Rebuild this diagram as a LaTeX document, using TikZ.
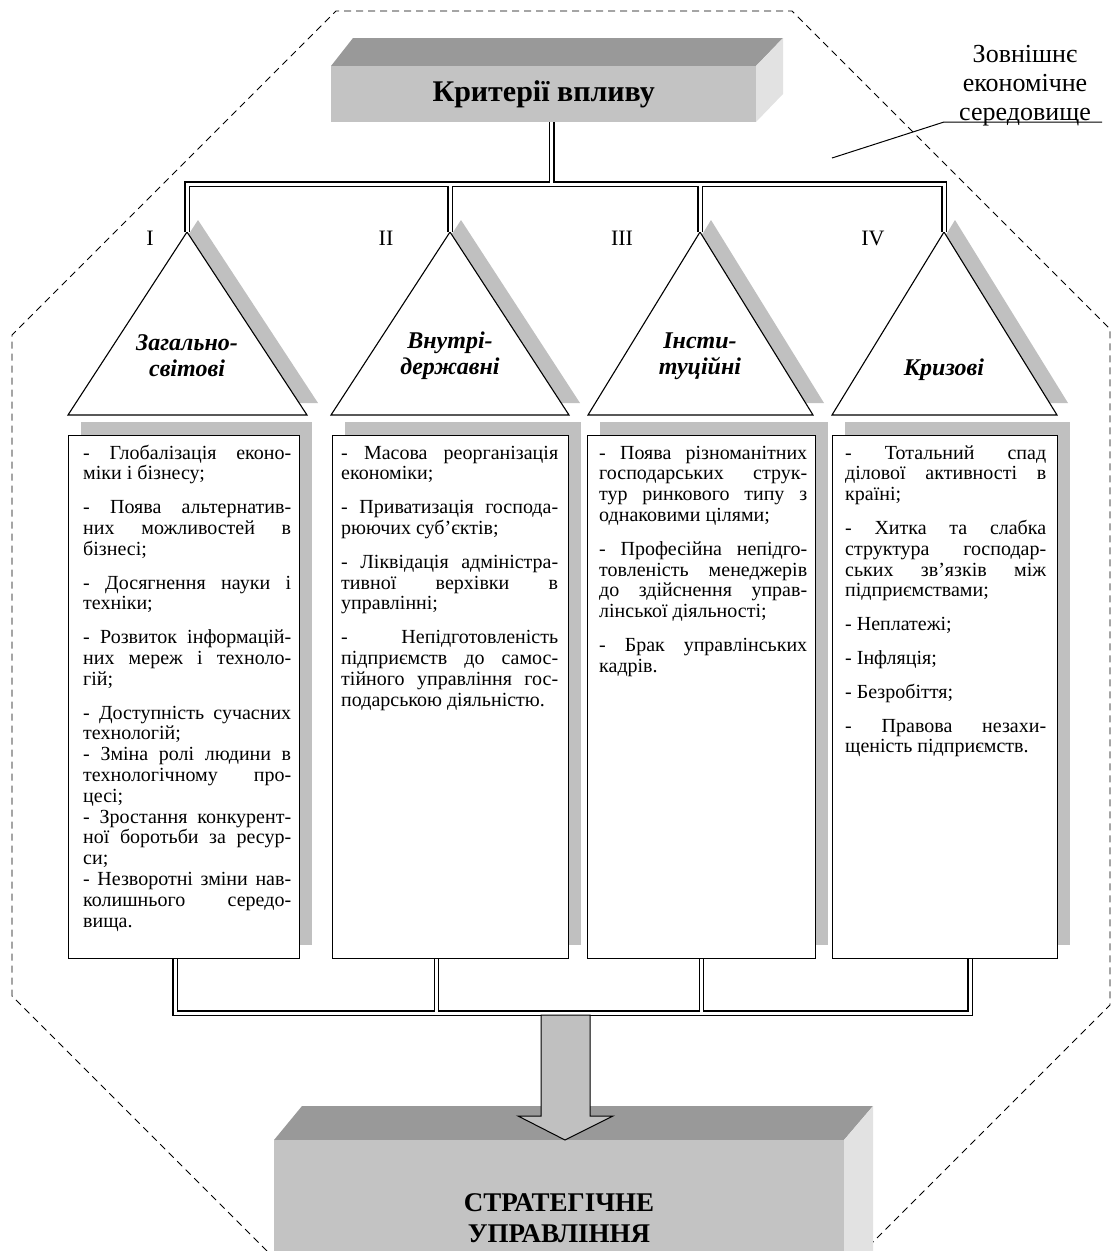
\documentclass[tikz,border=0pt]{standalone}
\usepackage{fontspec}
\setmainfont{Liberation Serif}
% one justified line / one last line of a list item
\newcommand{\JL}[1]{\hbox to\hsize{\spaceskip=0.25em plus 1fil\relax #1}}
\newcommand{\EL}[1]{\hbox to\hsize{#1\hfil}}
\newcommand{\itemgap}{\vskip 13pt}
\definecolor{topgray}{HTML}{999999}
\definecolor{frontgray}{HTML}{C3C3C3}
\definecolor{sidegray}{HTML}{E2E2E2}
\definecolor{shadowgray}{HTML}{C0C0C0}
\tikzset{
  envline/.style={dash pattern=on 7pt off 5pt, line width=0.9pt},
  link/.style={double=white, double distance=3pt, line width=1.3pt},
  frontface/.style={fill=frontgray, draw=none, inner sep=0pt},
  tri/.style={draw, fill=white, line width=1.1pt, line join=miter},
  listbox/.style={draw, fill=white, line width=1.1pt, anchor=north west, inner sep=0pt},
  listtext/.style={anchor=base west, inner sep=0pt, font=\fontsize{20}{20.8}\selectfont},
  numlabel/.style={inner sep=0pt, font=\fontsize{22}{22}\selectfont},
  trilabel/.style={inner sep=0pt, align=center, font=\fontsize{24}{26}\selectfont\bfseries\itshape},
}
\begin{document}
\begin{tikzpicture}[x=1pt,y=-1pt]
\useasboundingbox (0,0) rectangle (1115,1251);

% dashed boundary of the external environment
\draw[envline] (267,1251) -- (12,996) -- (12,335) -- (336,11) -- (792,11)
  -- (1110,329) -- (1110,1005) -- (864,1251);

% label of the environment with its leader
\node[align=center, inner sep=0pt, font=\fontsize{26}{29}\selectfont] (env) at (1025,86)
  {Зовнішнє\\економічне\\середовище};
\coordinate (leadA) at (832,158);
\coordinate (leadB) at (944,122);
\coordinate (leadC) at (1102,122);
\draw[line width=1pt] (leadA) -- (leadB) -- (leadC);

% top block
\fill[topgray] (331,66) -- (353,38) -- (783,38) -- (756,66) -- cycle;
\fill[sidegray] (756,66) -- (783,38) -- (783,94) -- (756,122) -- cycle;
\node[frontface, minimum width=425pt, minimum height=56pt, anchor=north west,
  font=\fontsize{30}{34}\selectfont\bfseries] (crit) at (331,66) {Критерії впливу};

% triangles with their shadows
\foreach \ax/\bl/\br/\nm in {187/68/307/I, 450/331/569/II, 700/588/813/III, 944/832/1057/IV}{
  \fill[shadowgray, shift={(11,-12)}] (\ax,232) -- (\bl,415) -- (\br,415) -- cycle;
  \draw[tri] (\ax,232) coordinate (apex\nm) -- (\bl,415) -- (\br,415) -- cycle;
}

% upper distribution bus
\coordinate (critout) at ([xshift=8pt]crit.south);
\coordinate (busL) at (187,184);
\coordinate (busR) at (944,184);
\draw[link] (apexI) -- (busL) -- (busR) -- (apexIV)
  (apexII) -- (apexII |- busL)
  (apexIII) -- (apexIII |- busL)
  (critout) -- (critout |- busL);

% group numbers
\node[numlabel] (nI) at (150,238) {I};
\node[numlabel] (nII) at (386,238) {II};
\node[numlabel] (nIII) at (622,238) {III};
\node[numlabel] (nIV) at (873,238) {IV};

% group names
\node[trilabel] (gI) at (187,356) {Загально-\\світові};
\node[trilabel] (gII) at (450,356) {Внутрі-\\державні};
\node[trilabel] (gIII) at (700,356) {Інсти-\\туційні};
\node[trilabel] (gIV) at (944,370) {Кризові};

% list boxes with shadows
\fill[shadowgray] (81,422) rectangle (312,945);
\fill[shadowgray] (345,422) rectangle (581,945);
\fill[shadowgray] (600,422) rectangle (828,945);
\fill[shadowgray] (845,422) rectangle (1070,945);
\node[listbox, minimum width=231pt, minimum height=523pt] (box1) at (68,435) {};
\node[listbox, minimum width=236pt, minimum height=523pt] (box2) at (332,435) {};
\node[listbox, minimum width=228pt, minimum height=523pt] (box3) at (587,435) {};
\node[listbox, minimum width=225pt, minimum height=523pt] (box4) at (832,435) {};

\node[listtext] (txt1) at (83,459) {\vtop{\hsize=208pt
\JL{- Глобалізація еконо-}
\EL{міки і бізнесу;}
\itemgap
\JL{- Поява альтернатив-}
\JL{них можливостей в}
\EL{бізнесі;}
\itemgap
\JL{- Досягнення науки і}
\EL{техніки;}
\itemgap
\JL{- Розвиток інформацій-}
\JL{них мереж і техноло-}
\EL{гій;}
\itemgap
\JL{- Доступність сучасних}
\EL{технологій;}
\JL{- Зміна ролі людини в}
\JL{технологічному про-}
\EL{цесі;}
\JL{- Зростання конкурент-}
\JL{ної боротьби за ресур-}
\EL{си;}
\JL{- Незворотні зміни нав-}
\JL{колишнього середо-}
\EL{вища.}}};

\node[listtext] (txt2) at (341,459) {\vtop{\hsize=217pt
\JL{- Масова реорганізація}
\EL{економіки;}
\itemgap
\JL{- Приватизація господа-}
\EL{рюючих суб’єктів;}
\itemgap
\JL{- Ліквідація адміністра-}
\JL{тивної верхівки в}
\EL{управлінні;}
\itemgap
\JL{- Непідготовленість}
\JL{підприємств до самос-}
\JL{тійного управління гос-}
\EL{подарською діяльністю.}}};

\node[listtext] (txt3) at (599,459) {\vtop{\hsize=208pt
\JL{- Поява різноманітних}
\JL{господарських струк-}
\JL{тур ринкового типу з}
\EL{однаковими цілями;}
\itemgap
\JL{- Професійна непідго-}
\JL{товленість менеджерів}
\JL{до здійснення управ-}
\EL{лінської діяльності;}
\itemgap
\JL{- Брак управлінських}
\EL{кадрів.}}};

\node[listtext] (txt4) at (845,459) {\vtop{\hsize=201pt
\JL{- Тотальний спад}
\JL{ділової активності в}
\EL{країні;}
\itemgap
\JL{- Хитка та слабка}
\JL{структура господар-}
\JL{ських зв’язків між}
\EL{підприємствами;}
\itemgap
\EL{- Неплатежі;}
\itemgap
\EL{- Інфляція;}
\itemgap
\EL{- Безробіття;}
\itemgap
\JL{- Правова незахи-}
\EL{щеність підприємств.}}};

% lower collecting bus
\coordinate (d1) at ([xshift=-9pt]box1.south);
\coordinate (d2) at ([xshift=-14pt]box2.south);
\coordinate (d3) at (box3.south);
\coordinate (d4) at ([xshift=25pt]box4.south);
\path (d1) ++(0,54) coordinate (b1);
\path (d2) ++(0,54) coordinate (b2);
\path (d3) ++(0,54) coordinate (b3);
\path (d4) ++(0,54) coordinate (b4);
\draw[link] (d1) -- (b1) -- (b4) -- (d4)
  (d2) -- (b2)
  (d3) -- (b3);

% bottom block
\fill[topgray] (274,1140) -- (302,1106) -- (873,1106) -- (844,1140) -- cycle;
\fill[sidegray] (844,1140) -- (873,1106) -- (873,1251) -- (844,1251) -- cycle;
\node[frontface, minimum width=570pt, minimum height=111pt, anchor=north west] (strat) at (274,1140) {};
\node[align=center, inner sep=0pt, font=\fontsize{27}{31}\selectfont\bfseries] (strattext) at (559,1218)
  {СТРАТЕГІЧНЕ\\УПРАВЛІННЯ};

% arrow from the bus into the bottom block
\coordinate (arrowtip) at (565,1140);
\draw[fill=shadowgray, line width=1pt, line join=miter]
  (541,1015) -- (590,1015) -- (590,1116) -- (613,1116) -- (arrowtip)
  -- (518,1116) -- (541,1116) -- cycle;
\end{tikzpicture}
\end{document}
